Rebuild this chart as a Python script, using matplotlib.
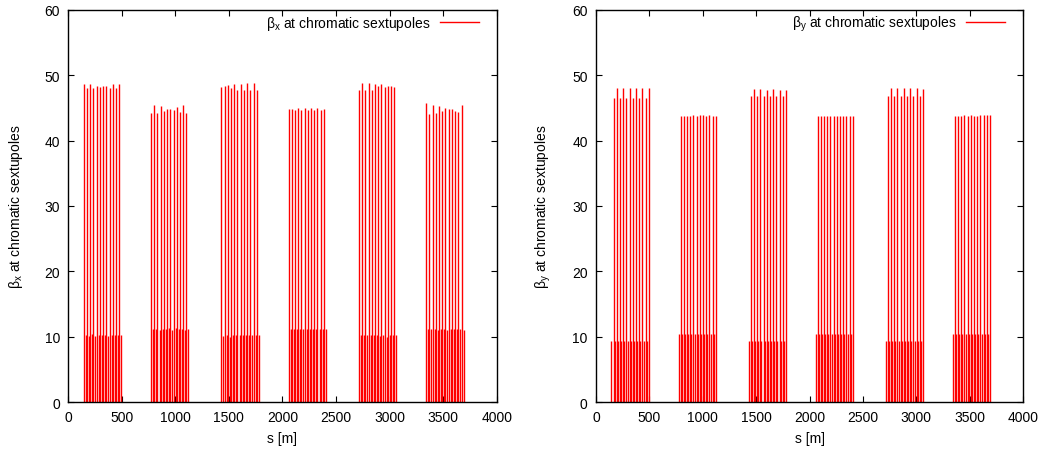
import numpy as np
import matplotlib
matplotlib.use("Agg")
import matplotlib.pyplot as plt
from matplotlib.lines import Line2D

plt.rcParams['font.family'] = ['Liberation Sans', 'DejaVu Sans']
plt.rcParams['mathtext.fontset'] = 'custom'
plt.rcParams['mathtext.rm'] = 'Liberation Sans'
plt.rcParams['mathtext.it'] = 'Liberation Sans'
plt.rcParams['mathtext.default'] = 'regular'

# lattice: 6 arc groups, 12 cells each, SF then SD in every cell
group_start = [145, 773, 1430, 2057, 2714, 3342]   # s of first SF in each group [m]
cell_len = 30.0
sd_offset = 19.0

# beta_x at SF (tall) and SD (short), per group
bx_sf = [
    [48.7, 48.0, 48.6, 48.1, 48.4, 48.2, 48.3, 48.4, 48.1, 48.6, 48.0, 48.7],
    [44.3, 45.5, 44.3, 45.3, 44.6, 44.9, 44.9, 44.7, 45.2, 44.4, 45.5, 44.2],
    [48.2, 48.4, 48.5, 48.1, 48.6, 47.8, 48.7, 47.8, 48.9, 47.7, 48.9, 47.8],
    [44.9, 44.9, 44.7, 45.0, 44.7, 45.0, 44.7, 45.0, 44.7, 45.0, 44.7, 44.9],
    [47.8, 48.9, 47.8, 48.9, 47.8, 48.7, 48.4, 48.6, 48.2, 48.4, 48.4, 48.2],
    [45.7, 44.1, 45.5, 44.3, 45.3, 44.6, 45.0, 44.9, 44.8, 44.6, 44.4, 45.4],
]
bx_sd = [
    [10.3, 10.1, 10.4, 10.1, 10.3, 10.2, 10.3, 10.1, 10.3, 10.2, 10.2, 10.2],
    [11.1, 11.2, 11.0, 11.2, 11.1, 11.3, 11.0, 11.3, 11.1, 11.2, 11.0, 11.2],
    [10.1, 10.2, 10.0, 10.2, 10.2, 10.2, 10.2, 10.2, 10.2, 10.2, 10.2, 10.2],
    [11.1, 11.2, 11.2, 11.2, 11.2, 11.2, 11.2, 11.2, 11.2, 11.2, 11.2, 11.2],
    [10.2, 10.2, 10.2, 10.2, 10.2, 10.2, 10.1, 10.3, 10.0, 10.3, 10.2, 10.3],
    [11.1, 11.1, 11.2, 11.0, 11.2, 11.1, 11.0, 11.2, 11.1, 11.1, 11.2, 11.0],
]

# beta_y at SF (short) and SD (tall), per group
by_sf = [
    [9.4] * 12,
    [10.4] * 12,
    [9.4] * 12,
    [10.4] * 12,
    [9.4] * 12,
    [10.4] * 12,
]
by_sd = [
    [46.6, 48.0, 46.6, 48.0, 46.6, 48.0, 46.6, 48.0, 46.6, 48.0, 46.6, 48.0],
    [43.8, 43.8, 43.8, 43.8, 43.9, 43.8, 43.9, 43.9, 43.8, 43.9, 43.8, 43.8],
    [46.8, 47.9, 46.8, 47.9, 46.8, 47.8, 46.8, 47.9, 46.8, 47.8, 46.8, 47.8],
    [43.8, 43.8, 43.8, 43.8, 43.8, 43.8, 43.8, 43.8, 43.8, 43.8, 43.8, 43.8],
    [46.8, 48.0, 46.8, 48.0, 46.8, 48.0, 46.8, 48.0, 46.8, 48.0, 46.8, 47.9],
    [43.7, 43.8, 43.8, 43.9, 43.8, 43.9, 43.8, 43.8, 43.9, 43.9, 43.9, 43.9],
]

labels = [r'$\beta_x$ at chromatic sextupoles', r'$\beta_y$ at chromatic sextupoles']

fig = plt.figure(figsize=(10.44, 4.52), dpi=100)
ax1 = fig.add_axes([0.0654, 0.1084, 0.4103, 0.8673])
ax2 = fig.add_axes([0.5709, 0.1084, 0.4090, 0.8673])

for ax, sf, sd, lab in [(ax1, bx_sf, bx_sd, labels[0]), (ax2, by_sf, by_sd, labels[1])]:
    s_all, b_all = [], []
    for g in range(len(group_start)):
        for k in range(12):
            s_sf = group_start[g] + k * cell_len
            s_all += [s_sf, s_sf + sd_offset]
            b_all += [sf[g][k], sd[g][k]]
    ax.vlines(s_all, 0, b_all, color='red', linewidth=1.0)
    ax.set_xlim(0, 4000)
    ax.set_ylim(0, 60)
    ax.set_xticks(np.arange(0, 4001, 500))
    ax.set_yticks(np.arange(0, 61, 10))
    ax.tick_params(direction='in', top=True, right=True, length=4, width=0.8,
                   labelsize=10, pad=6, colors='black')
    for sp in ax.spines.values():
        sp.set_linewidth(1.0)
    ax.set_xlabel('s [m]', fontsize=10, labelpad=5)
    ax.set_ylabel(lab, fontsize=10, labelpad=14)
    h = Line2D([], [], color='red', linewidth=1.0)
    ax.legend([h], [lab], loc='upper right', bbox_to_anchor=(0.971, 1.005),
              frameon=False, markerfirst=False, fontsize=10, handlelength=2.8,
              borderaxespad=0, handletextpad=0.7)

fig.savefig('out.png', dpi=100)
